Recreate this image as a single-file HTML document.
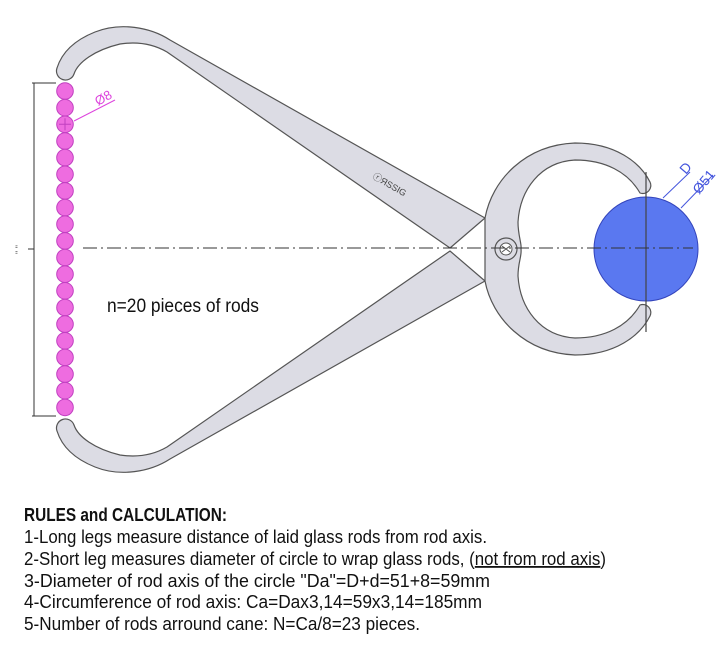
<!DOCTYPE html>
<html><head><meta charset="utf-8"><style>
html,body{margin:0;padding:0;background:#fff;width:724px;height:651px;overflow:hidden}
svg{display:block}
text{font-family:"Liberation Sans Narrow","Liberation Sans",sans-serif}
</style></head><body>
<svg width="724" height="651" viewBox="0 0 724 651" xmlns="http://www.w3.org/2000/svg">
<g fill="#dcdce4" stroke="#555" stroke-width="1.2" stroke-linejoin="round">
<path d="M485,218 L170,40 C150,27 120,22 95,32 C75,40 62,52 57,68 A9,9 0 0 0 74,74 C78,62 95,50 120,44 C140,41 155,45 167,52 L450,248 Z"/>
<path d="M485,281 L170,459 C150,472 120,477 95,467 C75,459 62,447 57,431 A9,9 0 0 1 74,425 C78,437 95,449 120,455 C140,458 155,454 167,447 L450,251 Z"/>
<path d="M485,218 C492,180 525,145 575,143 C615,143 640,162 650,182 A8,8 0 0 1 640,193 C628,172 605,160 575,160 C540,162 520,190 518,222 C518,236 522,244 521,249 C522,256 518,262 518,276 C520,308 540,336 575,338 C605,338 628,326 640,305 A8,8 0 0 1 650,316 C640,336 615,355 575,355 C525,353 492,318 485,281 Z"/>
</g>
<circle cx="506" cy="249" r="11" fill="#dcdce4" stroke="#555" stroke-width="1.2"/>
<circle cx="506" cy="249" r="6" fill="#fff" stroke="#555" stroke-width="1"/>
<path d="M502,246 L510,252 M510,246 L502,252" stroke="#555" stroke-width="1"/>
<text x="0" y="0" font-size="9" fill="#444" transform="translate(372,178) rotate(30)">ⓡЯSSIG</text>
<circle cx="646" cy="249" r="52" fill="#5a78f0" stroke="#3344bb" stroke-width="1"/>
<line x1="646" y1="172" x2="646" y2="332" stroke="#444" stroke-width="1.2"/>
<line x1="83" y1="248" x2="693" y2="248" stroke="#333" stroke-width="1" stroke-dasharray="14 4 2 4"/>
<g stroke="#4455dd" stroke-width="1" fill="none">
<line x1="663" y1="198" x2="690" y2="172"/>
<line x1="681" y1="208" x2="713" y2="175"/>
</g>
<text x="0" y="0" font-size="14" fill="#4455dd" transform="translate(686,175) rotate(-50)">D</text>
<text x="0" y="0" font-size="14" fill="#4455dd" transform="translate(699,195) rotate(-50)">Ø51</text>
<g fill="#ee6ce0" stroke="#c040c0" stroke-width="1">
<circle cx="65" cy="91" r="8.3"/><circle cx="65" cy="107.7" r="8.3"/><circle cx="65" cy="124.3" r="8.3"/><circle cx="65" cy="141" r="8.3"/><circle cx="65" cy="157.6" r="8.3"/><circle cx="65" cy="174.3" r="8.3"/><circle cx="65" cy="190.9" r="8.3"/><circle cx="65" cy="207.6" r="8.3"/><circle cx="65" cy="224.2" r="8.3"/><circle cx="65" cy="240.9" r="8.3"/><circle cx="65" cy="257.5" r="8.3"/><circle cx="65" cy="274.2" r="8.3"/><circle cx="65" cy="290.8" r="8.3"/><circle cx="65" cy="307.5" r="8.3"/><circle cx="65" cy="324.1" r="8.3"/><circle cx="65" cy="340.8" r="8.3"/><circle cx="65" cy="357.4" r="8.3"/><circle cx="65" cy="374.1" r="8.3"/><circle cx="65" cy="390.7" r="8.3"/><circle cx="65" cy="407.4" r="8.3"/>
</g>
<path d="M59,124.3 H71 M65,118.3 V130.3" stroke="#c040c0" stroke-width="1"/>
<line x1="74" y1="121" x2="115" y2="100" stroke="#dd44dd" stroke-width="1"/>
<text x="0" y="0" font-size="13" fill="#dd44dd" transform="translate(98,106) rotate(-30)">Ø8</text>
<g stroke="#333" stroke-width="1">
<line x1="34" y1="83" x2="34" y2="416"/>
<line x1="32" y1="83" x2="56" y2="83"/>
<line x1="32" y1="416" x2="56" y2="416"/>
<line x1="28" y1="249" x2="34" y2="249"/>
</g>
<text x="22" y="254" font-size="9" fill="#555" transform="rotate(-90 22 254)">" "</text>
<text x="107" y="312" font-size="19" fill="#111" textLength="152" lengthAdjust="spacingAndGlyphs">n=20 pieces of rods</text>
<g fill="#111" font-size="18">
<text x="24" y="521" font-weight="bold" textLength="203" lengthAdjust="spacingAndGlyphs">RULES and CALCULATION:</text>
<text x="24" y="543" textLength="463" lengthAdjust="spacingAndGlyphs">1-Long legs measure distance of laid glass rods from rod axis.</text>
<text x="24" y="565" textLength="582" lengthAdjust="spacingAndGlyphs">2-Short leg measures diameter of circle to wrap glass rods, (<tspan text-decoration="underline">not from rod axis</tspan>)</text>
<text x="24" y="587" textLength="466" lengthAdjust="spacingAndGlyphs">3-Diameter of rod axis of the circle "Da"=D+d=51+8=59mm</text>
<text x="24" y="608" textLength="458" lengthAdjust="spacingAndGlyphs">4-Circumference of rod axis: Ca=Dax3,14=59x3,14=185mm</text>
<text x="24" y="630" textLength="396" lengthAdjust="spacingAndGlyphs">5-Number of rods arround cane: N=Ca/8=23 pieces.</text>
</g>
</svg>
</body></html>
